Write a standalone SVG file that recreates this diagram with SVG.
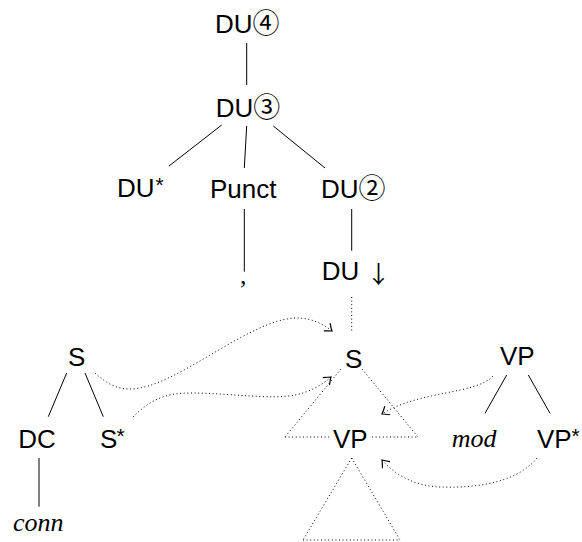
<svg xmlns="http://www.w3.org/2000/svg" width="582" height="542" viewBox="0 0 582 542">
<defs>
<style>
.lbl{font-family:"Liberation Sans","DejaVu Sans",sans-serif;font-size:26px;fill:#000}
.sym{font-family:"Noto Sans CJK JP","DejaVu Sans",sans-serif;font-weight:normal;font-size:24px}
.circ{font-family:"Noto Sans CJK JP","DejaVu Sans",sans-serif;font-size:27px;font-weight:normal}
.it{font-family:"Liberation Serif","DejaVu Serif",serif;font-style:italic;font-size:26px;fill:#000}
.rm{font-family:"Liberation Serif","DejaVu Serif",serif;font-size:26px;fill:#000}
.sup{font-family:"Liberation Sans","DejaVu Sans",sans-serif;font-size:21px;fill:#000}
.edge{stroke:#000;stroke-width:1;fill:none}
.dot{stroke:#000;stroke-width:1;fill:none;stroke-dasharray:1 2.6}
.darr{stroke:#000;stroke-width:1;fill:none;stroke-dasharray:1 2.6;marker-end:url(#to)}
</style>
<marker id="to" viewBox="-8 -6 10 12" refX="0" refY="0" markerWidth="10" markerHeight="12" markerUnits="userSpaceOnUse" orient="auto">
<path d="M-6.5,-5 Q-2,-1.2 0,0 Q-2,1.2 -6.5,5" fill="none" stroke="#000" stroke-width="1.2"/>
</marker>
</defs>
<rect width="582" height="542" fill="#fff"/>
<g id="connectors">
<line class="edge" x1="246.7" y1="43" x2="246.7" y2="85"/>
<line class="edge" x1="221.7" y1="125" x2="169" y2="166"/>
<line class="edge" x1="246.7" y1="126" x2="244.3" y2="168"/>
<line class="edge" x1="273.3" y1="126" x2="325" y2="168"/>
<line class="edge" x1="244.3" y1="209" x2="244.3" y2="271.7"/>
<line class="edge" x1="351.7" y1="209" x2="351.7" y2="250.7"/>
<line class="edge" x1="66.7" y1="373" x2="48.3" y2="416.7"/>
<line class="edge" x1="85" y1="373" x2="103.3" y2="416.7"/>
<line class="edge" x1="39" y1="458" x2="39" y2="506.7"/>
<line class="edge" x1="506.7" y1="375" x2="485" y2="413.3"/>
<line class="edge" x1="528.3" y1="375" x2="550" y2="413.3"/>
<line class="dot" x1="351.7" y1="297" x2="351.7" y2="332"/>
<line class="dot" x1="341" y1="369" x2="285" y2="437"/>
<line class="dot" x1="362" y1="369" x2="418" y2="437"/>
<line class="dot" x1="285" y1="437" x2="331" y2="437"/>
<line class="dot" x1="372" y1="437" x2="418" y2="437"/>
<line class="dot" x1="351.7" y1="458" x2="303" y2="540"/>
<line class="dot" x1="351.7" y1="458" x2="400" y2="540"/>
<line class="dot" x1="303" y1="540" x2="400" y2="540"/>
<path class="darr" d="M95,373 C105,382 115,389 130,389 C175,389 250,318 297,318 C310,318 322,323 332,331"/>
<path class="darr" d="M133,417 C150,400 165,393 190,393 C230,393 270,400 295,395 C310,392 322,385 331,377"/>
<path class="darr" d="M493,376 C475,395 420,390 382,414"/>
<path class="darr" d="M537,458 C515,485 470,488 440,487 C415,486 395,475 382,460"/>
</g>
<g id="du4"><text class="lbl" x="215" y="33">DU<tspan class="circ">④</tspan></text></g>
<g id="du3"><text class="lbl" x="215.7" y="117">DU<tspan class="circ">③</tspan></text></g>
<g id="dustar"><text class="lbl" x="117" y="197">DU</text><text class="sup" x="155.5" y="192">*</text></g>
<g id="punct"><text class="lbl" x="210" y="198">Punct</text></g>
<g id="du2"><text class="lbl" x="321" y="198">DU<tspan class="circ">②</tspan></text></g>
<g id="comma"><text class="rm" x="240" y="284">,</text></g>
<g id="dudown"><text class="lbl" x="321.7" y="280">DU <tspan class="sym" dy="3">↓</tspan></text></g>
<g id="s-center"><text class="lbl" x="345" y="368">S</text></g>
<g id="s-left"><text class="lbl" x="68" y="366">S</text></g>
<g id="dc"><text class="lbl" x="18.3" y="448">DC</text></g>
<g id="sstar"><text class="lbl" x="100" y="448">S</text><text class="sup" x="116.5" y="443">*</text></g>
<g id="conn"><text class="it" x="13" y="531">conn</text></g>
<g id="vp-center"><text class="lbl" x="333" y="448">VP</text></g>
<g id="vp-right"><text class="lbl" x="500" y="365">VP</text></g>
<g id="mod"><text class="it" x="451.7" y="447">mod</text></g>
<g id="vpstar"><text class="lbl" x="537" y="448">VP</text><text class="sup" x="571.5" y="443">*</text></g>
</svg>
